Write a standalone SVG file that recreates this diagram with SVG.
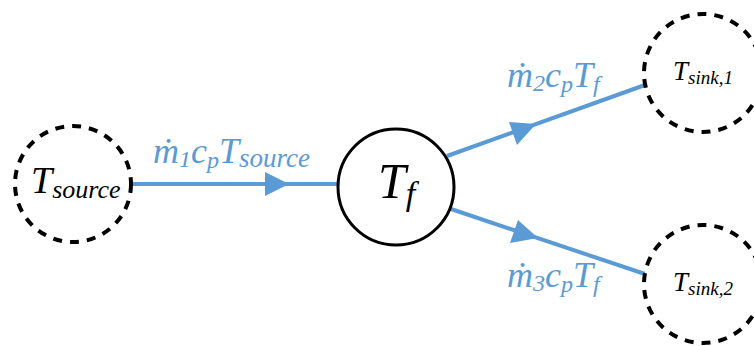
<svg xmlns="http://www.w3.org/2000/svg" width="754" height="346" viewBox="0 0 754 346">
<style>
.dash{fill:#fff;stroke:#000;stroke-width:4;stroke-dasharray:9 8}
.solid{fill:#fff;stroke:#000;stroke-width:3}
.t{font-family:'Liberation Serif','Times New Roman','DejaVu Serif',serif;font-style:italic;fill:#000}
.lbl{font-family:'Liberation Serif','Times New Roman','DejaVu Serif',serif;font-style:italic;fill:#5B9BD5}
.edge{stroke:#5B9BD5;stroke-width:4;fill:none}
.ah{fill:#5B9BD5}
</style>
<rect width="754" height="346" fill="#fff"/>
<g id="connectors">
<line class="edge" x1="132" y1="184" x2="337" y2="184"/>
<polygon class="ah" points="289,184 265,172 265,196"/>
<line class="edge" x1="447" y1="156" x2="645" y2="85"/>
<polygon class="ah" points="536,124 509,122 517,145"/>
<line class="edge" x1="448" y1="208" x2="645" y2="274"/>
<polygon class="ah" points="538,238 518,220 510,243"/>
<text class="lbl" x="153" y="163" font-size="36">ṁ<tspan font-size="24" dy="4">1</tspan><tspan dy="-4">c</tspan><tspan font-size="24" dy="5">p</tspan><tspan dy="-5">T</tspan><tspan font-size="27" dy="4">source</tspan></text>
<text class="lbl" x="507" y="87" font-size="36">ṁ<tspan font-size="24" dy="4">2</tspan><tspan dy="-4">c</tspan><tspan font-size="24" dy="5">p</tspan><tspan dy="-5">T</tspan><tspan font-size="24" dy="5">f</tspan></text>
<text class="lbl" x="507" y="287" font-size="36">ṁ<tspan font-size="24" dy="4">3</tspan><tspan dy="-4">c</tspan><tspan font-size="24" dy="5">p</tspan><tspan dy="-5">T</tspan><tspan font-size="24" dy="5">f</tspan></text>
</g>
<g id="source">
<circle class="dash" cx="73" cy="184" r="58"/>
<text class="t" x="31" y="193" font-size="38">T<tspan font-size="26" dy="5">source</tspan></text>
</g>
<g id="tf">
<circle class="solid" cx="396" cy="187" r="58"/>
<text class="t" x="378" y="198" font-size="50">T<tspan font-size="34" dy="7">f</tspan></text>
</g>
<g id="sink1">
<circle class="dash" cx="703" cy="73" r="59"/>
<text class="t" x="673" y="80" font-size="27">T<tspan font-size="19" dy="4">sink,1</tspan></text>
</g>
<g id="sink2">
<circle class="dash" cx="703" cy="284" r="59"/>
<text class="t" x="673" y="291" font-size="27">T<tspan font-size="19" dy="4">sink,2</tspan></text>
</g>
</svg>
